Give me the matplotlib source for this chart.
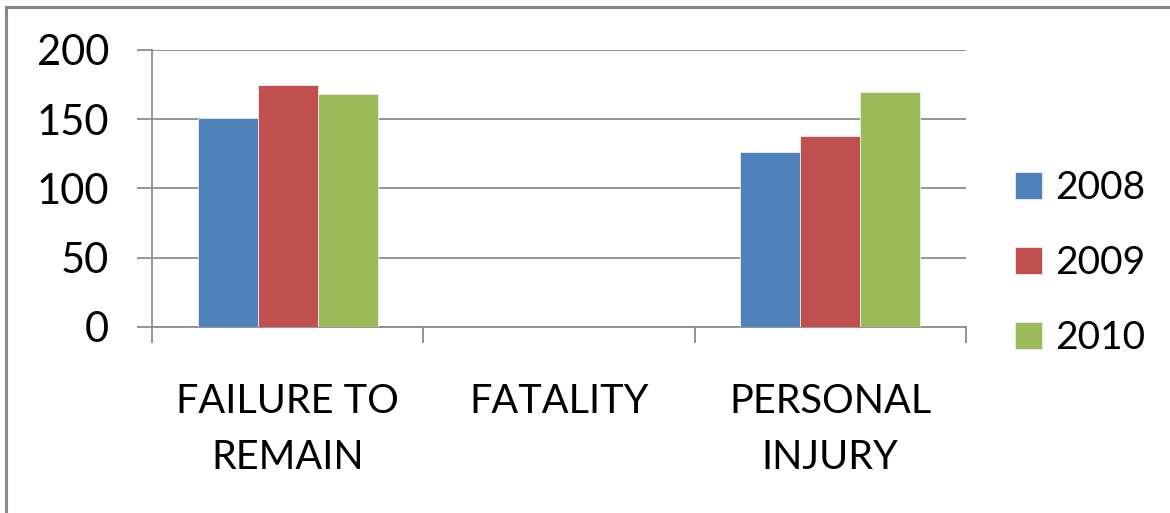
import numpy as np
import matplotlib
matplotlib.use('Agg')
import matplotlib.pyplot as plt
from matplotlib.lines import Line2D

# 数据
categories = ['FAILURE TO\nREMAIN', 'FATALITY', 'PERSONAL\nINJURY']
years = ['2008', '2009', '2010']
values_2008 = [151, 0, 126]
values_2009 = [175, 0, 138]
values_2010 = [168, 0, 170]
colors = ['#4F81BD', '#C0504D', '#9BBB59']

plt.rcParams['font.family'] = ['Lato', 'DejaVu Sans']

fig = plt.figure(figsize=(11.7, 5.13), dpi=100)
ax = fig.add_axes([0.1299, 0.3626, 0.6957, 0.54])

x = np.arange(len(categories))
width = 0.221
series = [values_2008, values_2009, values_2010]
for i, (vals, year, color) in enumerate(zip(series, years, colors)):
    ax.bar(x + (i - 1) * width, vals, width, color=color, label=year,
           edgecolor='#E8EEF6', linewidth=0.6, zorder=3)

ax.set_xlim(-0.5, len(categories) - 0.5)
ax.set_ylim(0, 200)
ax.set_yticks([0, 50, 100, 150, 200])

grid_color = '#8C8C8C'
ax.grid(axis='y', color=grid_color, linewidth=1.3, zorder=0)
for side in ['top', 'right']:
    ax.spines[side].set_visible(False)
for side in ['left', 'bottom']:
    ax.spines[side].set_color(grid_color)
    ax.spines[side].set_linewidth(1.3)

# x轴：标签在中心，刻度线在类别边界
ax.set_xticks(x)
ax.set_xticklabels(categories, fontsize=28.5, linespacing=1.66)
ax.tick_params(axis='x', which='major', length=0, pad=40)
ax.set_xticks(np.arange(len(categories) + 1) - 0.5, minor=True)
ax.tick_params(axis='x', which='minor', length=11.5, width=1.3, color=grid_color, direction='out')
ax.tick_params(axis='y', length=11, width=1.3, color=grid_color, direction='out', pad=20, labelsize=30)

fig.legend(loc='center left', bbox_to_anchor=(1015 / 1170, 0.487), frameon=False,
           fontsize=28, handlelength=0.69, handleheight=0.69, borderpad=0,
           handletextpad=0.33, labelspacing=1.0, borderaxespad=0)

# 外边框（只露出上边和左边）
border_color = '#888888'
fig.add_artist(Line2D([5.5 / 1170, 5.5 / 1170], [0, 1 - 7 / 513], transform=fig.transFigure,
                      color=border_color, linewidth=2.2))
fig.add_artist(Line2D([5.5 / 1170, 1], [1 - 7 / 513, 1 - 7 / 513], transform=fig.transFigure,
                      color=border_color, linewidth=2.2))

fig.savefig('out.png', dpi=100)
